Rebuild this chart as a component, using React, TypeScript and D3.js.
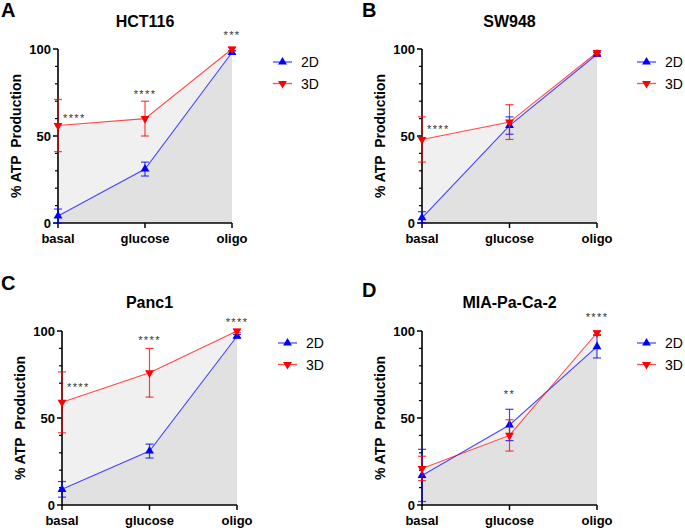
import React from 'react'
import * as d3 from 'd3'

const categories = ['basal', 'glucose', 'oligo']
const seriesNames = ['2D', '3D']

// HCT116
const hct2D = [4, 31, 98]
const hct2DErr = [4, 4, 1]
const hct3D = [56, 60, 100]
const hct3DErr = [15, 10, 1]
// SW948
const sw2D = [3, 56, 97]
const sw2DErr = [3.5, 5, 1]
const sw3D = [48, 58, 98]
const sw3DErr = [13, 10, 1]
// Panc1
const panc2D = [9, 31, 97]
const panc2DErr = [4.5, 4, 1]
const panc3D = [59, 76, 100]
const panc3DErr = [17.5, 14, 1]
// MIA-Pa-Ca-2
const mia2D = [17, 46, 91]
const mia2DErr = [15, 9, 6.5]
const mia3D = [21, 40, 99]
const mia3DErr = [7, 9, 1]

// significance marks: [category index, y value, label]
const hctStars: [number, number, string][] = [[0, 61, '****'], [1, 75, '****'], [2, 108.6, '***']]
const swStars: [number, number, string][] = [[0, 54.6, '****']]
const pancStars: [number, number, string][] = [[0, 68.4, '****'], [1, 95.4, '****'], [2, 105.7, '****']]
const miaStars: [number, number, string][] = [[1, 64.4, '**'], [2, 108.6, '****']]

const yMajor = [0, 50, 100]
const yMinor = [10, 20, 30, 40, 60, 70, 80, 90]

const FONT = '"Liberation Sans", Arial, Helvetica, sans-serif'
const BLUE = '#0000ff'
const RED = '#ff0000'

interface PanelProps {
  letter: string
  title: string
  x0: number
  x1: number
  y0: number
  y1: number
  letterX: number
  letterY: number
  titleY: number
  legendX: number
  legendLen: number
  legendY: number
  s2D: number[]
  e2D: number[]
  s3D: number[]
  e3D: number[]
  stars: [number, number, string][]
}

const Panel: React.FC<PanelProps> = p => {
  const x = d3.scalePoint<string>().domain(categories).range([p.x0, p.x1]).padding(0)
  const y = d3.scaleLinear().domain([0, 100]).range([p.y1, p.y0])
  const area = d3.area<number>().x((_, i) => x(categories[i])!).y0(y(0)).y1(d => y(d))
  const line = d3.line<number>().x((_, i) => x(categories[i])!).y(d => y(d))
  const tri = d3.symbol().type(d3.symbolTriangle).size(34)()!
  const series = [
    { name: seriesNames[0], vals: p.s2D, errs: p.e2D, color: BLUE, rot: 0 },
    { name: seriesNames[1], vals: p.s3D, errs: p.e3D, color: RED, rot: 180 }
  ]
  const cx = (p.x0 + p.x1) / 2
  const cy = (p.y0 + p.y1) / 2
  return (
    <g>
      <text x={p.letterX} y={p.letterY} fontSize={20} fontWeight="bold" fontFamily={FONT}>{p.letter}</text>
      <text x={cx} y={p.titleY} fontSize={16} fontWeight="bold" fontFamily={FONT} textAnchor="middle">{p.title}</text>
      {series.map(s => (
        <path key={'a' + s.name} d={area(s.vals)!} fill="#000" fillOpacity={0.058} />
      ))}
      {/* axes */}
      <line x1={p.x0} x2={p.x0} y1={p.y0} y2={p.y1} stroke="#000" strokeWidth={1.6} />
      <line x1={p.x0 - 0.8} x2={p.x1} y1={p.y1} y2={p.y1} stroke="#000" strokeWidth={1.6} />
      {yMajor.map(v => (
        <g key={'ym' + v}>
          <line x1={p.x0 - 5} x2={p.x0} y1={y(v)} y2={y(v)} stroke="#000" strokeWidth={1.5} />
          <text x={p.x0 - 7} y={y(v)} dy="0.36em" textAnchor="end" fontSize={13} fontWeight="bold" fontFamily={FONT}>{v}</text>
        </g>
      ))}
      {yMinor.map(v => (
        <line key={'yn' + v} x1={p.x0 - 3} x2={p.x0} y1={y(v)} y2={y(v)} stroke="#000" strokeWidth={1.2} />
      ))}
      {categories.map(c => (
        <g key={'x' + c}>
          <line x1={x(c)} x2={x(c)} y1={p.y1} y2={p.y1 + 5} stroke="#000" strokeWidth={1.5} />
          <text x={x(c)} y={p.y1 + 20} textAnchor="middle" fontSize={13} fontWeight="bold" fontFamily={FONT}>{c}</text>
        </g>
      ))}
      <text transform={`translate(${p.x0 - 37},${cy}) rotate(-90)`} textAnchor="middle" fontSize={14} fontWeight="bold" fontFamily={FONT} style={{ whiteSpace: 'pre' }}>% ATP  Production</text>
      {/* series */}
      {series.map(s => (
        <g key={'s' + s.name}>
          <path d={line(s.vals)!} fill="none" stroke={s.color} strokeOpacity={0.7} strokeWidth={1.1} />
          {s.vals.map((v, i) => {
            const px = x(categories[i])!
            const t = y(Math.min(v + s.errs[i], 101))
            const b = y(Math.max(v - s.errs[i], 0))
            return (
              <g key={i} stroke={s.color} strokeOpacity={0.75} strokeWidth={1.2}>
                <line x1={px} x2={px} y1={t} y2={b} />
                <line x1={px - 4} x2={px + 4} y1={t} y2={t} />
                <line x1={px - 4} x2={px + 4} y1={b} y2={b} />
              </g>
            )
          })}
          {s.vals.map((v, i) => (
            <path key={'m' + i} d={tri} fill={s.color} transform={`translate(${x(categories[i])},${y(v)}) rotate(${s.rot})`} />
          ))}
        </g>
      ))}
      {p.stars.map(([ci, v, label], i) => {
        const px = x(categories[ci])!
        const start = ci === 0
        return (
          <text key={'st' + i} x={start ? px + 5 : px} y={y(v) + 5} textAnchor={start ? 'start' : 'middle'} fontSize={11} letterSpacing={1.4} fill="#333" fontFamily={FONT}>{label}</text>
        )
      })}
      {/* legend */}
      {series.map((s, i) => {
        const ly = p.legendY + i * 21.5
        const mid = p.legendX + p.legendLen / 2
        return (
          <g key={'l' + s.name}>
            <line x1={p.legendX} x2={p.legendX + p.legendLen} y1={ly} y2={ly} stroke={s.color} strokeOpacity={0.7} strokeWidth={1.3} />
            <path d={tri} fill={s.color} transform={`translate(${mid},${ly}) rotate(${s.rot})`} />
            <text x={p.legendX + p.legendLen + 9} y={ly} dy="0.36em" fontSize={14} fontFamily={FONT}>{s.name}</text>
          </g>
        )
      })}
    </g>
  )
}

export default function App() {
  return (
    <div style={{ position: 'fixed', left: 0, top: 0 }}>
      <svg width={685} height={531} style={{ display: 'block', background: '#fff' }}>
        <Panel letter="A" title="HCT116" x0={58} x1={232} y0={49} y1={223} letterX={1} letterY={17} titleY={27}
          legendX={273} legendLen={19} legendY={62} s2D={hct2D} e2D={hct2DErr} s3D={hct3D} e3D={hct3DErr} stars={hctStars} />
        <Panel letter="B" title="SW948" x0={422} x1={597} y0={49} y1={223} letterX={362} letterY={17} titleY={27}
          legendX={637} legendLen={19} legendY={62} s2D={sw2D} e2D={sw2DErr} s3D={sw3D} e3D={sw3DErr} stars={swStars} />
        <Panel letter="C" title="Panc1" x0={62} x1={237} y0={331} y1={505} letterX={1} letterY={290} titleY={308}
          legendX={278} legendLen={19} legendY={343} s2D={panc2D} e2D={panc2DErr} s3D={panc3D} e3D={panc3DErr} stars={pancStars} />
        <Panel letter="D" title="MIA-Pa-Ca-2" x0={422} x1={597} y0={331} y1={505} letterX={362} letterY={297} titleY={308}
          legendX={637} legendLen={19} legendY={343} s2D={mia2D} e2D={mia2DErr} s3D={mia3D} e3D={mia3DErr} stars={miaStars} />
      </svg>
    </div>
  )
}
